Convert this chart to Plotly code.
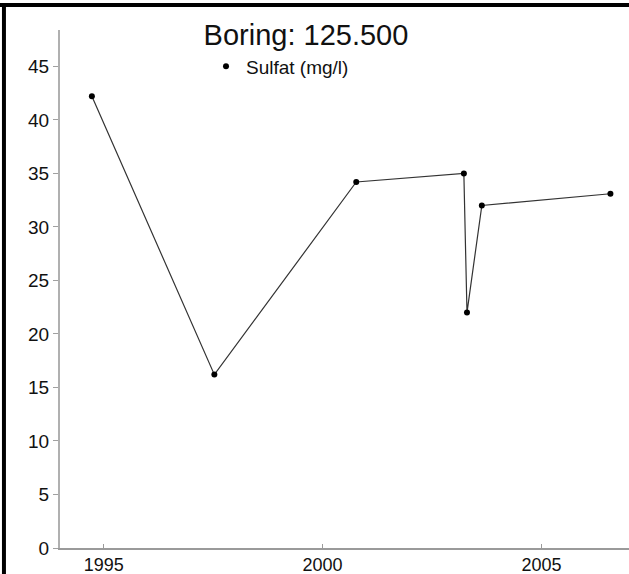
import plotly.graph_objects as go

# Data
dates = ["1994-09-24", "1997-07-12", "2000-10-08", "2003-03-25",
         "2003-04-20", "2003-08-22", "2006-07-30"]
sulfat = [42.2, 16.2, 34.2, 35.0, 22.0, 32.0, 33.1]
x_tick_vals = ["1995-01-01", "2000-01-01", "2005-01-01"]
x_tick_text = ["1995", "2000", "2005"]
y_tick_vals = [0, 5, 10, 15, 20, 25, 30, 35, 40, 45]

FONT = "Liberation Sans, Arial, sans-serif"

fig = go.Figure()
fig.add_trace(go.Scatter(
    x=dates, y=sulfat, mode="lines", showlegend=False, hoverinfo="skip",
    line=dict(color="#333333", width=1.2),
))
fig.add_trace(go.Scatter(
    x=dates, y=sulfat, mode="markers", name="Sulfat (mg/l)",
    marker=dict(color="black", size=6),
))

# frame (top and left edges) as in the reference picture
fig.add_shape(type="rect", xref="paper", yref="paper",
              x0=-0.11, x1=1.01, y0=1.0444, y1=1.0521,
              fillcolor="black", line=dict(width=0), layer="above")
fig.add_shape(type="rect", xref="paper", yref="paper",
              x0=-0.1020, x1=-0.0950, y0=1.0521, y1=-0.1,
              fillcolor="black", line=dict(width=0), layer="above")
# top edge also as a filled annotation box (drawn in the top layer)
fig.add_annotation(text=" ", xref="paper", yref="paper",
                   x=-0.11, xanchor="left", y=1.0521, yanchor="top",
                   width=640, height=4, borderpad=0, borderwidth=0,
                   bgcolor="black", showarrow=False,
                   font=dict(size=1, color="black"))

fig.update_layout(
    width=629, height=574,
    margin=dict(l=60, r=0, t=30, b=26, autoexpand=False),
    paper_bgcolor="white", plot_bgcolor="white",
    font=dict(family=FONT, color="black", size=18),
    title=dict(text="Boring: 125.500", x=0.4865, xref="container",
               xanchor="center", y=1 - 35 / 574, yref="container",
               yanchor="middle",
               font=dict(family=FONT, size=29, color="#111111")),
    legend=dict(x=0.2566, y=0.9295, xanchor="left", yanchor="middle",
                bgcolor="rgba(0,0,0,0)", borderwidth=0,
                font=dict(family=FONT, size=19, color="#111111")),
    xaxis=dict(type="date", range=["1994-01-01", "2007-01-01"],
               tickvals=x_tick_vals, ticktext=x_tick_text,
               showgrid=False, zeroline=False, automargin=False,
               showline=True, linecolor="#9a9a9a", linewidth=1.5,
               ticks="inside", ticklen=4, tickcolor="#9a9a9a",
               tickfont=dict(family=FONT, size=18, color="#111111")),
    yaxis=dict(range=[0, 48.4], tickvals=y_tick_vals,
               showgrid=False, zeroline=False, automargin=False,
               showline=True, linecolor="#b0b0b0", linewidth=2,
               ticks="outside", ticklen=5, tickcolor="#a0a0a0",
               tickfont=dict(family=FONT, size=19, color="#111111")),
)

post = (
    "document.documentElement.style.margin='0';"
    "document.body.style.margin='0';"
    "document.body.style.padding='0';"
    "document.body.style.overflow='hidden';"
)
fig.write_html("out.html", config={"displayModeBar": False},
               post_script=post)
